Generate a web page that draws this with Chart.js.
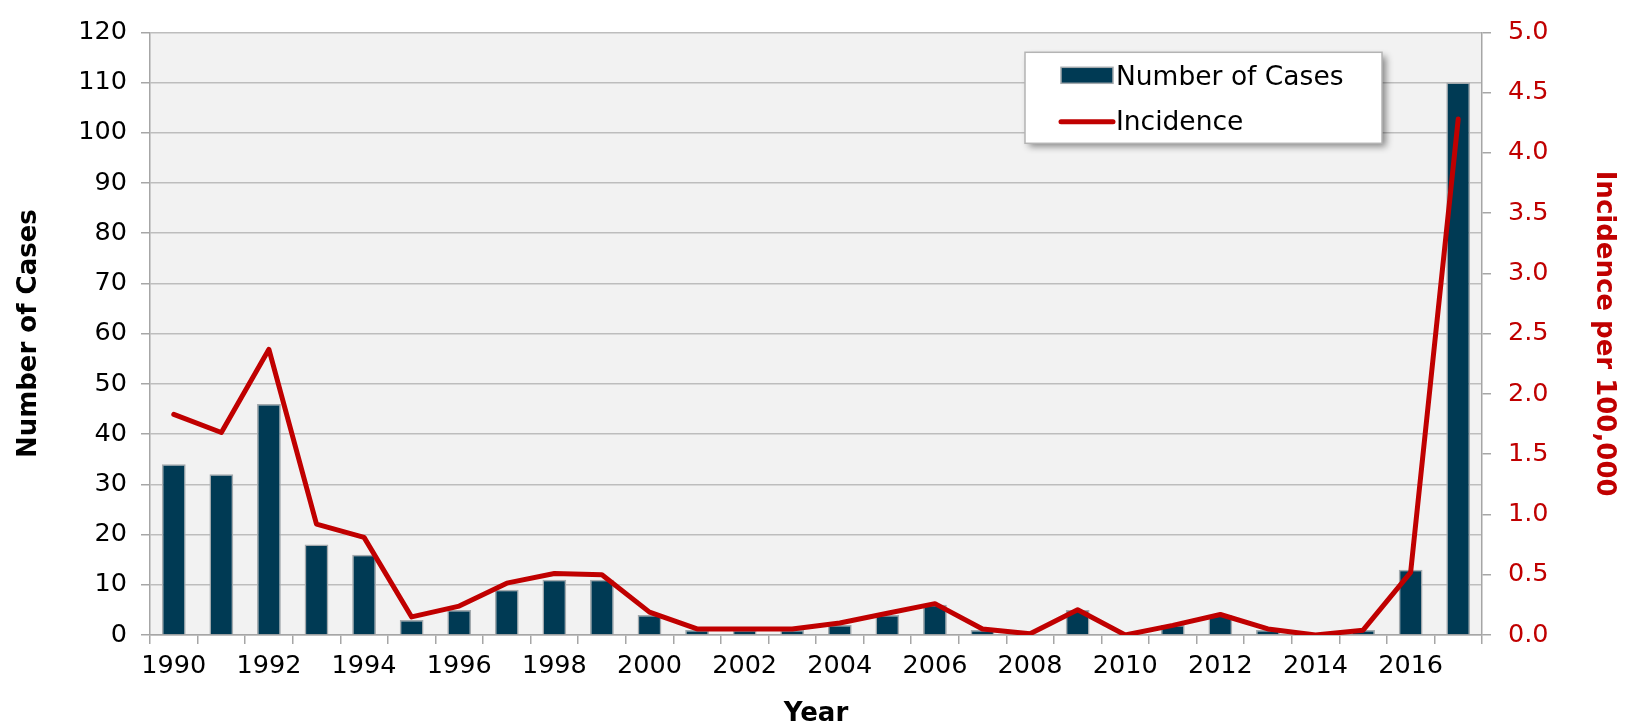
<!DOCTYPE html>
<html><head><meta charset="utf-8">
<script src="https://cdn.jsdelivr.net/npm/chart.js@4/dist/chart.umd.min.js"></script>
<style>html,body{margin:0;padding:0;background:#fff;}canvas{display:block}</style>
</head><body>
<canvas id="c" width="1634" height="726"></canvas>
<script>
const years = ['1990','1991','1992','1993','1994','1995','1996','1997','1998','1999','2000','2001','2002','2003','2004','2005','2006','2007','2008','2009','2010','2011','2012','2013','2014','2015','2016','2017'];
const cases = [34,32,46,18,16,3,5,9,11,11,4,1,1,1,2,4,6,1,0,5,0,2,4,1,0,1,13,110];
const incidence = [1.83,1.68,2.37,0.92,0.81,0.15,0.24,0.43,0.51,0.50,0.19,0.05,0.05,0.05,0.10,0.18,0.26,0.05,0.01,0.21,0.00,0.08,0.17,0.05,0.00,0.04,0.52,4.28];
const casesTicks = {min:0, max:120, step:10};
const incidenceTicks = {min:0, max:5, step:0.5};
const seriesNames = ['Number of Cases','Incidence'];
const axisTitles = {x:'Year', y:'Number of Cases', y1:'Incidence per 100,000'};

const FONT = 'Verdana, "DejaVu Sans", sans-serif';
const RED = '#c00000';
const BAR = '#003a54';
const GRID = '#bdbdbd';

const bgPlugin = {
  id:'plotBg',
  beforeDraw(chart){
    const {ctx, chartArea:a} = chart;
    ctx.save(); ctx.fillStyle='#f2f2f2';
    ctx.fillRect(a.left,a.top,a.right-a.left,a.bottom-a.top);
    ctx.restore();
  }
};

const legendPlugin = {
  id:'boxLegend',
  afterDraw(chart){
    const {ctx, chartArea:a} = chart;
    const bx = a.right - 457, by = a.top + 20, bw = 357, bh = 91;
    ctx.save();
    ctx.shadowColor='rgba(0,0,0,0.45)'; ctx.shadowBlur=7; ctx.shadowOffsetX=4; ctx.shadowOffsetY=4;
    ctx.fillStyle='#fff'; ctx.fillRect(bx,by,bw,bh);
    ctx.restore();
    ctx.save();
    ctx.strokeStyle='#b4b4b4'; ctx.lineWidth=1.5; ctx.strokeRect(bx,by,bw,bh);
    const ds = chart.data.datasets;
    ctx.fillStyle = ds[0].backgroundColor; ctx.fillRect(bx+36, by+15, 52, 16);
    ctx.strokeStyle = ds[0].borderColor; ctx.lineWidth=1.5; ctx.strokeRect(bx+36, by+15, 52, 16);
    ctx.strokeStyle = ds[1].borderColor; ctx.lineWidth=5; ctx.lineCap='round';
    ctx.beginPath(); ctx.moveTo(bx+36, by+69.5); ctx.lineTo(bx+88, by+69.5); ctx.stroke();
    ctx.fillStyle='#000'; ctx.font = '26.5px ' + FONT; ctx.textBaseline='alphabetic'; ctx.textAlign='left';
    ctx.fillText(ds[0].label, bx+91, by+33);
    ctx.fillText(ds[1].label, bx+91, by+78);
    ctx.restore();
  }
};

new Chart(document.getElementById('c'), {
  data:{
    labels: years,
    datasets:[
      {type:'bar', label:seriesNames[0], data:cases, yAxisID:'y', backgroundColor:BAR, borderColor:'#a3a9ad', borderWidth:1.5, barPercentage:0.5, categoryPercentage:1, order:2},
      {type:'line', label:seriesNames[1], data:incidence, yAxisID:'y1', borderColor:RED, backgroundColor:RED, borderWidth:5, pointRadius:0, tension:0, borderJoinStyle:'round', borderCapStyle:'round', order:1}
    ]
  },
  options:{
    responsive:false, animation:false, devicePixelRatio:1,
    layout:{padding:{top:28, left:0, right:0, bottom:0}},
    plugins:{legend:{display:false}, tooltip:{enabled:false}},
    scales:{
      x:{
        position:'bottom',
        grid:{offset:true, drawOnChartArea:false, drawTicks:true, tickLength:9, color:'#a6a6a6', lineWidth:1.5},
        border:{display:true, color:'#a6a6a6', width:1.5},
        ticks:{autoSkip:false, maxRotation:0, minRotation:0, padding:7, color:'#000', font:{family:FONT, size:25.5},
          callback:function(v,i){ return i%2===0 ? this.getLabelForValue(v) : ''; }},
        title:{display:true, text:axisTitles.x, color:'#000', font:{family:FONT, size:26, weight:'bold'}, padding:{top:0,bottom:-4}},
        afterFit(s){ s.height = 91; }
      },
      y:{
        position:'left', min:casesTicks.min, max:casesTicks.max,
        grid:{color:GRID, lineWidth:1.5, tickLength:9, tickColor:'#a6a6a6'},
        border:{display:true, color:'#a6a6a6', width:1.5},
        ticks:{stepSize:casesTicks.step, padding:14, color:'#000', font:{family:FONT, size:25.5}},
        title:{display:true, text:axisTitles.y, color:'#000', font:{family:FONT, size:26, weight:'bold'}, padding:{top:14,bottom:0}},
        afterFit(s){ s.width = 150; }
      },
      y1:{
        position:'right', min:incidenceTicks.min, max:incidenceTicks.max,
        grid:{drawOnChartArea:false, tickLength:9, color:'#a6a6a6', lineWidth:1.5},
        border:{display:true, color:'#a6a6a6', width:1.5},
        ticks:{stepSize:incidenceTicks.step, padding:17, color:RED, font:{family:FONT, size:25.5}, callback:v=>Number(v).toFixed(1)},
        title:{display:true, text:axisTitles.y1, color:RED, font:{family:FONT, size:26, weight:'bold'}, padding:{top:15,bottom:0}},
        afterFit(s){ s.width = 152; }
      }
    }
  },
  plugins:[bgPlugin, legendPlugin]
});
</script>
</body></html>
